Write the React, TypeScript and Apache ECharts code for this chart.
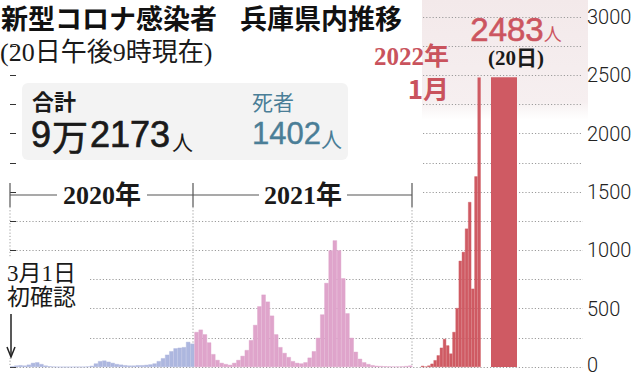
import React, { useEffect, useRef } from 'react';
import * as echarts from 'echarts';

// ---- data ----
const WEEK_START = '2020-03-01';
// weekly reading of daily new cases (2020-03-01 .. 2020-12-26)
const cases2020 = [5, 12, 15, 12, 20, 35, 40, 25, 12, 6, 3, 0, 0, 0, 0, 1, 1, 1, 4, 10, 30, 50, 55, 45, 35, 25, 20, 15, 12, 12, 15, 15, 18, 22, 30, 50, 75, 105, 135, 160, 165, 170, 215, 200];
// weekly reading (2020-12-27 .. 2021-12-31)
const cases2021 = [300, 320, 280, 210, 110, 60, 35, 25, 18, 35, 60, 95, 145, 230, 360, 520, 620, 560, 440, 280, 170, 120, 85, 50, 35, 30, 40, 80, 135, 250, 450, 720, 1000, 1085, 1000, 760, 460, 250, 130, 70, 40, 25, 15, 10, 8, 6, 5, 4, 4, 5, 8, 12];
// January 2022, day by day
const jan2022Days = ['1日', '2日', '3日', '4日', '5日', '6日', '7日', '8日', '9日', '10日', '11日', '12日', '13日', '14日', '15日', '16日', '17日', '18日', '19日'];
const jan2022Cases = [10, 3, 12, 28, 58, 100, 165, 240, 185, 115, 300, 505, 910, 986, 1186, 1414, 671, 1634, 2482];
const latestDay = ['20日'];
const latestCases = [2483];
const Y_MAX = 3000;
const Y_STEP = 250;
const LABEL_STEP = 500;

const BLUE = '#adb7df';
const PINK = '#dfa4cb';
const RED = '#cf5a63';
const TEAL = '#4a7e97';
const INK = '#1a1a1a';
const SANS = '"Noto Sans CJK JP", "Noto Sans", sans-serif';
const NUM = '"Liberation Sans", Arial, "Noto Sans CJK JP", sans-serif';
const SERIF = '"Liberation Serif", "DejaVu Serif", "Noto Sans CJK JP", serif';

function weekLabels(n: number): string[] {
  const out: string[] = [];
  const d0 = new Date(WEEK_START + 'T00:00:00Z');
  for (let i = 0; i < n; i++) {
    const d = new Date(d0.getTime() + i * 7 * 86400000);
    out.push(d.toISOString().slice(0, 10));
  }
  return out;
}

function buildOption() {
  const hist = cases2020.concat(cases2021);
  const histCats = weekLabels(hist.length);
  const histData = hist.map((v, i) => {
    const c = i < cases2020.length ? BLUE : PINK;
    return { value: v, itemStyle: { color: c, borderColor: c, borderWidth: 0.4 } };
  });
  const dotted = { color: '#9c9c9c', type: [1.2, 2] as any, width: 1 };
  const hiddenX = (gridIndex: number, data?: string[]) =>
    data
      ? { type: 'category', gridIndex, data, show: false, boundaryGap: true }
      : { type: 'value', gridIndex, min: 0, max: 1, show: false };
  const hiddenY = (gridIndex: number) => ({ type: 'value', gridIndex, min: 0, max: Y_MAX, show: false });

  const line = (x1: number, y1: number, x2: number, y2: number, stroke = '#555', w = 1.2, dash?: number[], z = 6) => ({
    type: 'line', z, shape: { x1, y1, x2, y2 }, style: { stroke, lineWidth: w, lineDash: dash },
  });
  const text = (x: number, y: number, t: string, fontSize: number, fontFamily: string, fill = INK, fontWeight: any = 'normal', align = 'left', heavy = 0) => {
    const style: any = { text: t, fontSize, fontFamily, fontWeight, fill, align, verticalAlign: 'middle', lineHeight: fontSize };
    if (heavy > 0) { style.stroke = fill; style.lineWidth = heavy; }
    return { type: 'text', x, y, z: 8, style };
  };

  return {
    animation: false,
    backgroundColor: '#ffffff',
    grid: [
      { left: 10, top: 17, width: 573, height: 350 },          // 0 labels axis
      { left: 10, top: 221.17, width: 573, height: 145.83 },   // 1 lower grid lines (0..1250)
      { left: 423, top: 17, width: 160, height: 175 },         // 2 upper grid lines (1500..3000)
      { left: 10, top: 17, width: 402.4, height: 350 },        // 3 2020-2021 weekly
      { left: 421, top: 17, width: 59.7, height: 350 },        // 4 Jan 2022
      { left: 491, top: 17, width: 26, height: 350 },          // 5 latest day
    ],
    xAxis: [
      hiddenX(0), hiddenX(1), hiddenX(2),
      hiddenX(3, histCats), hiddenX(4, jan2022Days), hiddenX(5, latestDay),
    ],
    yAxis: [
      {
        type: 'value', gridIndex: 0, position: 'right', offset: 2, min: 0, max: Y_MAX, interval: Y_STEP,
        splitLine: { show: false }, axisLine: { show: false },
        axisTick: { show: true, length: 6, lineStyle: { color: '#333', width: 1 } },
        axisLabel: {
          margin: 2, fontSize: 20, color: '#222', fontFamily: 'Roboto, "Liberation Sans", sans-serif', fontWeight: 300,
          formatter: (v: number) => (v === 0 ? '{z|0}' : v % LABEL_STEP === 0 ? String(v) : ''),
          rich: {
            z: { fontSize: 20, color: '#222', fontFamily: 'Roboto, "Liberation Sans", sans-serif', fontWeight: 300, padding: [0, 0, 5, 0] },
          },
        },
      },
      {
        type: 'value', gridIndex: 1, min: 0, max: 1250, interval: Y_STEP,
        axisLine: { show: false }, axisTick: { show: false }, axisLabel: { show: false },
        splitLine: { show: true, lineStyle: dotted },
      },
      {
        type: 'value', gridIndex: 2, min: 1500, max: Y_MAX, interval: Y_STEP,
        axisLine: { show: false }, axisTick: { show: false }, axisLabel: { show: false },
        splitLine: { show: true, lineStyle: dotted },
      },
      hiddenY(3), hiddenY(4), hiddenY(5),
    ],
    series: [
      {
        type: 'bar', xAxisIndex: 3, yAxisIndex: 3, barWidth: '100%', z: 3,
        data: histData,
      },
      {
        type: 'bar', xAxisIndex: 4, yAxisIndex: 4, barWidth: '100%', z: 3,
        itemStyle: { color: RED, borderColor: RED, borderWidth: 0.4 },
        data: jan2022Cases,
      },
      {
        type: 'bar', xAxisIndex: 5, yAxisIndex: 5, barWidth: '100%', z: 3,
        itemStyle: { color: RED },
        data: latestCases,
        label: {
          show: true, position: 'top', distance: 8, offset: [12, 0],
          formatter: (p: any) => `{n|${p.value}}{u|人}\n{d|(${latestDay[0]})}`,
          rich: {
            n: { fontSize: 33, fontFamily: NUM, color: '#cc5560', lineHeight: 35, verticalAlign: 'middle', textBorderColor: '#cc5560', textBorderWidth: 0.6 },
            u: { fontSize: 18, fontFamily: SANS, color: '#cc5560', lineHeight: 35, verticalAlign: 'middle', padding: [6, 0, 0, 0] },
            d: { fontSize: 21, fontFamily: SERIF, fontWeight: 'bold', color: INK, lineHeight: 22 },
          },
        },
      },
    ],
    graphic: [
      // light pink panel behind the 2022 part
      {
        type: 'rect', z: -1, shape: { x: 422, y: 0, width: 166, height: 120 },
        style: {
          fill: {
            type: 'linear', x: 0, y: 0, x2: 0, y2: 1,
            colorStops: [
              { offset: 0, color: '#f3e9ea' },
              { offset: 0.85, color: '#f6eff0' },
              { offset: 1, color: 'rgba(248,243,243,0)' },
            ],
          },
        },
      },
      // grey total box
      { type: 'rect', z: -1, shape: { x: 22, y: 83, width: 326, height: 77, r: 6 }, style: { fill: '#f3f3f3' } },
      // white box for the first-case note
      { type: 'rect', z: 5, shape: { x: 0, y: 257, width: 88, height: 101 }, style: { fill: '#ffffff' } },
      // titles
      text(1, 17, '新型コロナ感染者', 27, SANS, '#111', 'bold'),
      text(240, 17, '兵庫県内推移', 27, SANS, '#111', 'bold'),
      text(0, 52, '(20日午後9時現在)', 26, SERIF, INK),
      text(32, 100, '合計', 22, SANS, INK, 'bold'),
      text(31, 134, '9', 36, NUM, INK, 'normal', 'left', 0.7),
      text(52, 135, '万', 36, SANS, INK, 'normal', 'left', 0.6),
      text(90, 134, '2173', 36, NUM, INK, 'normal', 'left', 0.7),
      text(172, 141, '人', 21, SANS, INK),
      text(252, 101, '死者', 21, SANS, TEAL),
      text(252, 133, '1402', 31, NUM, TEAL, 'normal', 'left', 0.4),
      text(321, 138, '人', 21, SANS, TEAL),
      text(449, 56, '2022年', 25, SERIF, '#c9535d', 'bold', 'right'),
      text(449, 87, '1月', 26, SANS, '#c9535d', 'bold', 'right'),
      // year brackets
      text(102, 195, '2020年', 26, SERIF, INK, 'bold', 'center'),
      text(303, 195, '2021年', 26, SERIF, INK, 'bold', 'center'),
      line(10, 195, 57, 195), line(147, 195, 193, 195),
      line(193, 195, 259, 195), line(347, 195, 412, 195),
      line(10, 183, 10, 207), line(193, 183, 193, 207), line(412, 183, 412, 207),
      line(10, 207, 10, 367, '#9c9c9c', 1, [1.2, 2], 1),
      line(193, 207, 193, 367, '#9c9c9c', 1, [1.2, 2], 1),
      line(412, 207, 412, 367, '#9c9c9c', 1, [1.2, 2], 1),
      // first case note
      text(7, 273, '3月1日', 23, SERIF, INK),
      text(7, 297, '初確認', 23, SERIF, INK),
      line(11, 314, 11, 356, '#222', 1.5),
      { type: 'polyline', z: 8, shape: { points: [[7, 347], [11, 357], [15, 347]] }, style: { stroke: '#222', lineWidth: 1.5, fill: 'none' } },
    ],
  };
}

export default function App() {
  const ref = useRef<HTMLDivElement>(null);
  useEffect(() => {
    document.body.style.margin = '0';
    const chart = echarts.init(ref.current!, null, { renderer: 'svg' });
    chart.setOption(buildOption() as any);
    return () => chart.dispose();
  }, []);
  return <div ref={ref} style={{ width: 640, height: 375, background: '#fff' }} />;
}
